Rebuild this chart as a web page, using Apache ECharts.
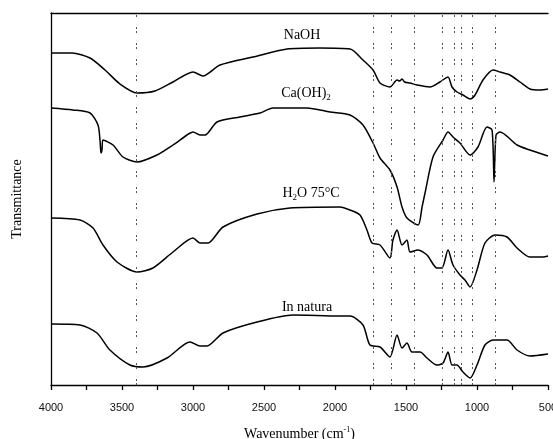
<!DOCTYPE html>
<html>
<head>
<meta charset="utf-8">
<script src="https://cdn.jsdelivr.net/npm/echarts@6/dist/echarts.min.js"></script>
<style>
  html, body { margin: 0; padding: 0; background: #fff; }
  #ftir { width: 553px; height: 439px; }
</style>
</head>
<body>
<div id="ftir"></div>
<script>
// wavenumber (cm-1), transmittance (a.u., curves stacked with offsets)
const naoh = [
  [4000, 332], [3852, 332], [3725, 327], [3620, 315], [3514, 301], [3394, 292],
  [3268, 294], [3141, 303], [3000, 313], [2930, 309], [2810, 320], [2577, 328],
  [2338, 336], [2106, 337], [1894, 336], [1803, 325], [1732, 315], [1683, 302],
  [1613, 298], [1563, 305], [1545, 304], [1528, 306], [1510, 303], [1472, 302],
  [1423, 300], [1331, 298], [1261, 303], [1204, 308], [1176, 298], [1141, 293],
  [1099, 290], [1049, 286], [1014, 290], [958, 305], [887, 315], [838, 313],
  [768, 310], [697, 303], [627, 296], [556, 295], [500, 296]
];
const caoh2 = [
  [4000, 277], [3845, 275], [3725, 272], [3669, 260], [3655, 245], [3648, 232],
  [3641, 235], [3634, 245], [3563, 240], [3493, 228], [3394, 223], [3254, 230],
  [3141, 240], [3042, 250], [3000, 253], [2951, 250], [2915, 250], [2831, 263],
  [2669, 268], [2528, 272], [2437, 277], [2197, 277], [2035, 273], [1894, 270],
  [1803, 260], [1732, 242], [1683, 227], [1613, 215], [1563, 198], [1528, 178],
  [1493, 167], [1415, 160], [1387, 178], [1366, 192], [1310, 228], [1239, 245],
  [1204, 253], [1169, 248], [1120, 242], [1049, 230], [993, 238], [930, 258],
  [894, 255], [880, 203], [866, 250], [838, 253], [718, 240], [627, 235], [500, 229]
];
const h2o75 = [
  [4000, 167], [3796, 165], [3704, 157], [3634, 140], [3535, 123], [3394, 113],
  [3282, 117], [3141, 133], [3000, 147], [2951, 142], [2894, 142], [2789, 158],
  [2549, 171], [2317, 177], [1965, 178], [1894, 175], [1824, 170], [1775, 155],
  [1739, 142], [1683, 140], [1613, 127], [1592, 145], [1563, 155], [1528, 140],
  [1493, 145], [1472, 133], [1415, 135], [1352, 130], [1282, 117], [1247, 117],
  [1204, 135], [1169, 120], [1120, 110], [1085, 105], [1049, 98], [1000, 115],
  [944, 142], [873, 150], [789, 148], [718, 137], [627, 128], [535, 128], [500, 129]
];
const inNatura = [
  [4000, 61], [3796, 60], [3676, 52], [3585, 35], [3444, 20], [3352, 18],
  [3183, 27], [3021, 43], [2951, 39], [2901, 39], [2789, 52], [2549, 63],
  [2296, 70], [1965, 69], [1894, 69], [1803, 60], [1754, 40], [1683, 38],
  [1613, 28], [1563, 50], [1528, 37], [1493, 42], [1458, 33], [1401, 33],
  [1352, 27], [1282, 20], [1239, 22], [1204, 33], [1176, 20], [1141, 20],
  [1099, 13], [1049, 7], [1000, 20], [944, 40], [887, 45], [789, 45],
  [718, 35], [627, 29], [500, 31]
];
// band positions marked by dotted lines
const bands = [3400, 1730, 1605, 1445, 1245, 1160, 1110, 1035, 875];
// curve names and where their labels sit [wavenumber, value]
const names = ['NaOH', 'Ca(OH){sub|2}', 'H{sub|2}O 75°C', 'In natura'];
const namePos = [[2232, 350], [2204, 292], [2169, 192], [2197, 78]];

const serif = '"Liberation Serif", "DejaVu Serif", serif';
const chart = echarts.init(document.getElementById('ftir'));

const curves = [naoh, caoh2, h2o75, inNatura];
const series = curves.map((d, i) => {
  const s = {
    type: 'line',
    data: d,
    showSymbol: false,
    smooth: 0.25,
    silent: true,
    animation: false,
    lineStyle: { color: '#000', width: 1.5 },
    markPoint: {
      symbol: 'circle',
      symbolSize: 0,
      silent: true,
      label: {
        show: true,
        position: 'inside',
        formatter: names[i],
        color: '#000',
        fontFamily: serif,
        fontSize: 14,
        rich: {
          sub: { fontFamily: serif, fontSize: 9, verticalAlign: 'bottom', padding: [9, 0, 0, 0], color: '#000' }
        }
      },
      data: [{ coord: namePos[i] }]
    }
  };
  if (i === 0) {
    s.markLine = {
      symbol: 'none',
      silent: true,
      animation: false,
      label: { show: false },
      lineStyle: { color: '#555', width: 1, type: [2, 2, 2, 10] },
      data: bands.map(b => ({ xAxis: b }))
    };
  }
  return s;
});

const option = {
  animation: false,
  grid: { left: 51, right: 5, top: 13, bottom: 54, outerBoundsMode: 'none', containLabel: false },
  xAxis: [
    {
      type: 'value',
      inverse: true,
      min: 500,
      max: 4000,
      interval: 500,
      axisLine: { lineStyle: { color: '#000', width: 1.3 } },
      axisTick: { show: true, length: 5, inside: false, lineStyle: { color: '#000', width: 1.3 } },
      minorTick: { show: true, splitNumber: 2, length: 5, lineStyle: { color: '#000', width: 1.3 } },
      splitLine: { show: false },
      axisLabel: {
        color: '#111',
        fontFamily: '"Liberation Sans", Arial, sans-serif',
        fontSize: 11,
        margin: 17,
        formatter: v => String(v)
      },
      name: 'Wavenumber (cm{sup|-1})',
      nameLocation: 'middle',
      nameGap: 41,
      nameTextStyle: {
        color: '#000',
        fontFamily: serif,
        fontSize: 14,
        rich: {
          sup: { fontFamily: serif, fontSize: 8, verticalAlign: 'top', padding: [0, 0, 8, 0], color: '#000' }
        }
      }
    },
    {
      type: 'value',
      position: 'top',
      inverse: true,
      min: 500,
      max: 4000,
      axisLine: { show: true, onZero: false, lineStyle: { color: '#000', width: 1.3 } },
      axisTick: { show: false },
      axisLabel: { show: false },
      splitLine: { show: false }
    }
  ],
  yAxis: {
    type: 'value',
    min: 0,
    max: 372,
    axisLine: { show: true, lineStyle: { color: '#000', width: 1.3 } },
    axisTick: { show: false },
    axisLabel: { show: false },
    splitLine: { show: false },
    name: 'Transmittance',
    nameLocation: 'middle',
    nameGap: 27,
    nameTextStyle: { color: '#000', fontFamily: serif, fontSize: 14 }
  },
  series: series
};
chart.setOption(option);
</script>
</body>
</html>
